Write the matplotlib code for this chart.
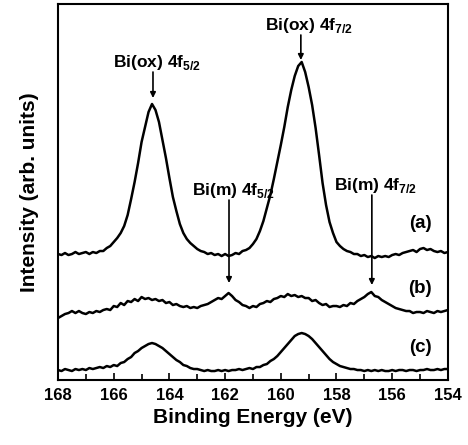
import numpy as np
import matplotlib
matplotlib.use("Agg")
import matplotlib.pyplot as plt
from matplotlib.ticker import MultipleLocator

plt.rcParams['font.family'] = ['Liberation Sans', 'DejaVu Sans']
plt.rcParams['font.weight'] = 'bold'
plt.rcParams['mathtext.fontset'] = 'custom'
plt.rcParams['mathtext.rm'] = 'Liberation Sans:bold'
plt.rcParams['mathtext.bf'] = 'Liberation Sans:bold'

# binding energy grid (eV), 0.125 eV step
energy = np.arange(168.0, 153.99, -0.125)

# spectra (arb. units, already offset)
spec_a = [126, 125, 127, 125, 126, 128, 126, 127, 128, 126, 128, 127, 129, 129, 132, 134, 138, 142, 147, 154,
          165, 181, 198, 217, 238, 253, 268, 276, 270, 258, 240, 222, 202, 183, 169, 156, 147, 141, 137, 134,
          131, 129, 128, 126, 127, 125, 126, 124, 126, 124, 125, 127, 126, 129, 130, 132, 136, 141, 149, 159,
          172, 185, 201, 218, 235, 253, 273, 290, 304, 314, 318, 308, 293, 275, 252, 225, 197, 175, 158, 147,
          138, 134, 131, 129, 128, 126, 126, 124, 125, 123, 124, 122, 124, 123, 124, 123, 125, 126, 125, 127,
          128, 129, 130, 128, 131, 132, 130, 131, 129, 128, 129, 127, 128]
spec_b = [62, 64, 66, 67, 69, 67, 69, 67, 66, 68, 67, 69, 68, 70, 71, 70, 74, 73, 77, 75,
          79, 78, 81, 79, 83, 81, 82, 80, 81, 79, 80, 77, 78, 75, 76, 74, 73, 74, 72, 73,
          72, 74, 75, 76, 78, 80, 82, 81, 84, 87, 84, 80, 78, 75, 74, 72, 74, 73, 76, 77,
          79, 78, 81, 82, 84, 83, 86, 84, 85, 83, 84, 82, 82, 79, 80, 77, 75, 76, 73, 74,
          74, 73, 75, 74, 77, 76, 79, 81, 83, 86, 88, 84, 83, 80, 78, 76, 74, 72, 71, 70,
          69, 69, 67, 68, 68, 67, 69, 68, 67, 69, 68, 69, 70]
spec_c = [10, 9, 11, 10, 9, 11, 10, 11, 10, 12, 11, 12, 13, 12, 14, 13, 15, 14, 17, 18,
          21, 23, 27, 29, 32, 34, 36, 37, 36, 34, 32, 29, 26, 23, 20, 18, 15, 14, 12, 11,
          11, 10, 9, 10, 9, 9, 10, 9, 10, 9, 10, 10, 11, 10, 11, 12, 11, 13, 13, 15,
          16, 19, 21, 24, 28, 32, 36, 40, 44, 46, 47, 46, 44, 41, 37, 33, 29, 25, 21, 18,
          16, 14, 13, 12, 11, 11, 10, 10, 9, 10, 9, 10, 9, 10, 9, 9, 10, 9, 10, 10,
          9, 10, 10, 9, 10, 10, 11, 10, 10, 11, 10, 11, 11]

print(len(energy), len(spec_a), len(spec_b), len(spec_c))

fig = plt.figure(figsize=(4.68, 4.45), dpi=100)
ax = fig.add_axes([0.124, 0.146, 0.833, 0.845])

for s in (spec_a, spec_b, spec_c):
    ax.plot(energy, s, color='black', lw=1.8)

ax.set_xlim(168, 154)
ax.set_ylim(0, 376)
ax.xaxis.set_major_locator(MultipleLocator(2))
ax.xaxis.set_minor_locator(MultipleLocator(1))
ax.tick_params(axis='x', which='both', direction='in', labelsize=12, pad=6)
ax.tick_params(axis='x', which='major', length=5, width=1.2)
ax.tick_params(axis='x', which='minor', length=4, width=1.2)
ax.set_yticks([])
for sp in ax.spines.values():
    sp.set_linewidth(1.5)

ax.set_xlabel('Binding Energy (eV)', fontsize=15, fontweight='bold', labelpad=3)
ax.set_ylabel('Intensity (arb. units)', fontsize=15, fontweight='bold', labelpad=14)

# peak labels and arrows
labels = [r'Bi(ox) 4f$_{5/2}$', r'Bi(ox) 4f$_{7/2}$', r'Bi(m) 4f$_{5/2}$', r'Bi(m) 4f$_{7/2}$']
label_x = [164.45, 159.0, 161.7, 156.6]
label_y = [318, 355, 190, 195]
arrow_x = [164.59, 159.28, 161.86, 156.73]
arrow_from = [308, 345, 180, 185]
arrow_to = [282, 320, 97, 95]

for t, tx, ty, axx, y0, y1 in zip(labels, label_x, label_y, arrow_x, arrow_from, arrow_to):
    ax.text(tx, ty, t, ha='center', va='center', fontsize=12.5, fontweight='bold')
    ax.annotate('', xy=(axx, y1), xytext=(axx, y0),
                arrowprops=dict(arrowstyle='-|>', color='black', lw=1.2,
                                mutation_scale=8, shrinkA=0, shrinkB=0))

curve_names = ['(a)', '(b)', '(c)']
name_y = [157, 92, 33]
for n, ny in zip(curve_names, name_y):
    ax.text(155.0, ny, n, ha='center', va='center', fontsize=13.5, fontweight='bold')

fig.savefig('out.png', dpi=100)
